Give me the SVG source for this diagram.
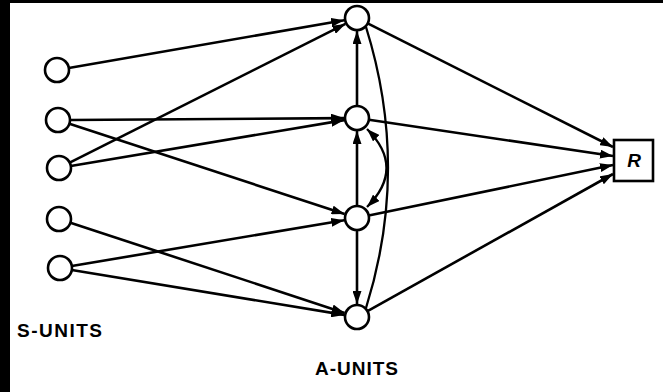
<svg xmlns="http://www.w3.org/2000/svg" width="663" height="392" viewBox="0 0 663 392">
<style>
.n{fill:#fff;stroke:#000;stroke-width:2.6}
.e{fill:none;stroke:#000;stroke-width:2.6;marker-end:url(#ah)}
.c{fill:none;stroke:#000;stroke-width:2.3}
.t{font-family:"Liberation Sans",Arial,sans-serif;font-weight:bold;font-size:19px;fill:#000}
</style>
<defs>
<marker id="ah" markerUnits="userSpaceOnUse" markerWidth="13" markerHeight="9" refX="13" refY="4.5" orient="auto-start-reverse">
<path d="M0,0 L13,4.5 L0,9 z" fill="#000"/>
</marker>
</defs>
<rect x="0" y="0" width="663" height="392" fill="#fff"/>
<rect x="0" y="0" width="10" height="392" fill="#000"/>
<rect x="0" y="0" width="663" height="3" fill="#000"/>
<g id="connectors">
<line class="e" x1="68.8" y1="68" x2="344.2" y2="20.2"/>
<line class="e" x1="70" y1="120" x2="344" y2="118.1"/>
<line class="e" x1="69.4" y1="123.7" x2="344.6" y2="214"/>
<line class="e" x1="69.7" y1="162.6" x2="345.4" y2="23.9"/>
<line class="e" x1="70.8" y1="166" x2="344.2" y2="120.1"/>
<line class="e" x1="70.4" y1="222.7" x2="344.6" y2="312.9"/>
<line class="e" x1="71.8" y1="266" x2="344.2" y2="220.2"/>
<line class="e" x1="71.8" y1="270" x2="344.2" y2="314.9"/>
<line class="e" x1="367.7" y1="23.4" x2="613" y2="147"/>
<line class="e" x1="368.9" y1="119.8" x2="613" y2="156"/>
<line class="e" x1="368.7" y1="215.6" x2="613" y2="165"/>
<line class="e" x1="367.5" y1="311.1" x2="613" y2="174"/>
<line class="e" x1="357" y1="106" x2="357" y2="31"/>
<line class="e" x1="357" y1="206" x2="357" y2="131"/>
<line class="e" x1="357" y1="230" x2="357" y2="304"/>
<path class="c" d="M366 27 Q410 168 366 308"/>
<path class="c" d="M367 129 Q406 168 367 207" style="marker-start:url(#ah);marker-end:url(#ah)"/>
</g>
<g id="s1"><circle class="n" cx="57" cy="70" r="12"/></g>
<g id="s2"><circle class="n" cx="58" cy="120" r="12"/></g>
<g id="s3"><circle class="n" cx="59" cy="168" r="12"/></g>
<g id="s4"><circle class="n" cx="59" cy="219" r="12"/></g>
<g id="s5"><circle class="n" cx="60" cy="268" r="12"/></g>
<g id="a1"><circle class="n" cx="357" cy="18" r="12"/></g>
<g id="a2"><circle class="n" cx="357" cy="118" r="12"/></g>
<g id="a3"><circle class="n" cx="357" cy="218" r="12"/></g>
<g id="a4"><circle class="n" cx="357" cy="317" r="12"/></g>
<g id="r">
<rect x="614" y="140" width="39" height="41" fill="#fff" stroke="#000" stroke-width="2.6"/>
<text class="t" x="634" y="167" text-anchor="middle" font-style="italic" font-size="18">R</text>
</g>
<g id="labels">
<text class="t" x="17" y="337" textLength="85" lengthAdjust="spacing">S-UNITS</text>
<text class="t" x="315" y="375" textLength="83" lengthAdjust="spacing">A-UNITS</text>
</g>
</svg>
